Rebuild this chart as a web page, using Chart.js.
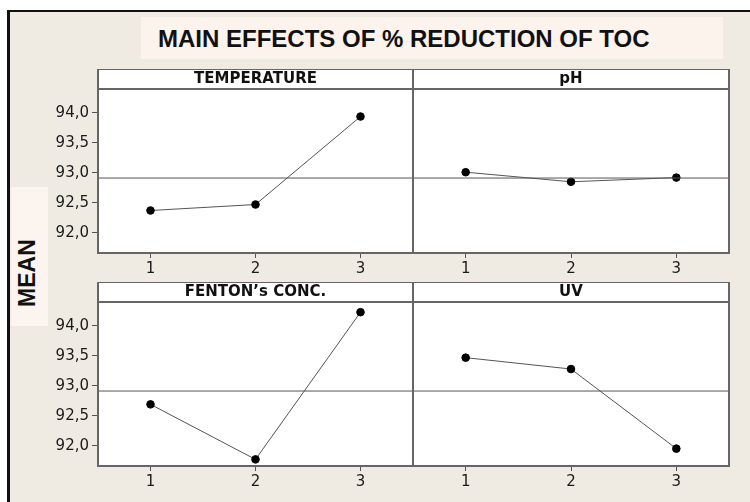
<!DOCTYPE html>
<html>
<head>
<meta charset="utf-8">
<script src="https://cdn.jsdelivr.net/npm/chart.js@4.4.0/dist/chart.umd.min.js"></script>
<style>
  body { margin: 0; width: 750px; height: 502px; overflow: hidden; position: relative; background: #fff; }
  #frame { position: absolute; left: 7px; top: 10px; width: 800px; height: 600px; background: #efebe2;
           border-left: 3px solid #111; border-top: 2px solid #111; }
  #title { position: absolute; left: 141px; top: 17px; width: 565px; height: 42px; padding-left: 17px;
           background: #fcf3ed; font: bold 24px "Liberation Sans", Arial, sans-serif; line-height: 43px; color: #111; }
  #meanBox { position: absolute; left: 11px; top: 187px; width: 37px; height: 139px; background: #fcf4ef; }
  #meanLabel { position: absolute; left: -21px; top: 258px; width: 100px; height: 30px; line-height: 30px;
               text-align: center; transform: rotate(-90deg); font: bold 23px "Liberation Sans", Arial, sans-serif; color: #111; }
  canvas { position: absolute; }
</style>
</head>
<body>
<div id="frame"></div>
<div id="title">MAIN EFFECTS OF % REDUCTION OF TOC</div>
<div id="meanBox"></div>
<div id="meanLabel">MEAN</div>
<canvas id="c1" width="364" height="221" style="left:50px;top:69px"></canvas>
<canvas id="c2" width="320" height="221" style="left:412px;top:69px"></canvas>
<canvas id="c3" width="364" height="221" style="left:50px;top:282px"></canvas>
<canvas id="c4" width="320" height="221" style="left:412px;top:282px"></canvas>
<script>
// factor levels and y tick values
const levels = [1, 2, 3];
const yTicks = [92.0, 92.5, 93.0, 93.5, 94.0];
const factors = ['TEMPERATURE', 'pH', 'FENTON\u2019s CONC.', 'UV'];

// means of % TOC reduction at each level
const temperature = [92.37, 92.47, 93.94];
const pH = [93.01, 92.85, 92.92];
const fenton = [92.69, 91.77, 94.23];
const uv = [93.47, 93.28, 91.95];

const allValues = [...temperature, ...pH, ...fenton, ...uv];
const grandMean = allValues.reduce((s, v) => s + v, 0) / allValues.length;

const tickFont = { family: 'DejaVu Sans', size: 15 };

// white panel with header strip, drawn around the chart area
const panelFrame = {
  id: 'panelFrame',
  beforeDraw(chart, args, opts) {
    const { ctx, chartArea: a } = chart;
    ctx.save();
    ctx.fillStyle = '#fff';
    ctx.fillRect(a.left, a.top - 20, a.right - a.left, a.bottom - a.top + 20);
    ctx.restore();
  },
  afterDraw(chart, args, opts) {
    const { ctx, chartArea: a } = chart;
    ctx.save();
    ctx.strokeStyle = '#666';
    ctx.lineWidth = 2;
    ctx.strokeRect(a.left, a.top - 20, a.right - a.left, a.bottom - a.top + 20);
    ctx.beginPath();
    ctx.moveTo(a.left, a.top);
    ctx.lineTo(a.right, a.top);
    ctx.stroke();
    ctx.fillStyle = '#111';
    ctx.font = 'bold 15px "DejaVu Sans"';
    ctx.textAlign = 'center';
    ctx.textBaseline = 'middle';
    ctx.fillText(opts.title, (a.left + a.right) / 2, a.top - 10);
    ctx.restore();
  }
};

function makePanel(id, title, values, showY) {
  new Chart(document.getElementById(id), {
    type: 'line',
    data: {
      datasets: [
        {
          data: [{ x: 0.5, y: grandMean }, { x: 3.5, y: grandMean }],
          borderColor: '#555',
          borderWidth: 1,
          pointRadius: 0
        },
        {
          data: levels.map((l, i) => ({ x: l, y: values[i] })),
          borderColor: '#555',
          borderWidth: 1,
          pointRadius: 3.8,
          pointBackgroundColor: '#000',
          pointBorderColor: '#000',
          pointBorderWidth: 1
        }
      ]
    },
    options: {
      responsive: false,
      animation: false,
      devicePixelRatio: 1,
      layout: { autoPadding: false, padding: { top: 20, right: showY ? 1 : 3, left: showY ? 0 : 1, bottom: 0 } },
      plugins: { legend: { display: false }, tooltip: { enabled: false }, panelFrame: { title: title } },
      scales: {
        x: {
          type: 'linear',
          min: 0.5,
          max: 3.5,
          afterBuildTicks: s => { s.ticks = levels.map(v => ({ value: v })); },
          afterFit: s => { s.height = 37; s.paddingLeft = 0; s.paddingRight = 0; },
          grid: { drawOnChartArea: false, tickLength: 5, color: '#555' },
          border: { display: false },
          ticks: { font: tickFont, color: '#1a1a1a', padding: 2, maxRotation: 0, callback: v => String(v) }
        },
        y: {
          display: showY,
          min: 91.66,
          max: 94.4,
          afterBuildTicks: s => { s.ticks = yTicks.map(v => ({ value: v })); },
          afterFit: s => { s.width = showY ? 48 : 0; s.paddingTop = 0; s.paddingBottom = 0; },
          grid: { drawOnChartArea: false, tickLength: 6, color: '#555' },
          border: { display: false },
          ticks: { font: tickFont, color: '#1a1a1a', padding: 3, callback: v => v.toFixed(1).replace('.', ',') }
        }
      }
    },
    plugins: [panelFrame]
  });
}

makePanel('c1', factors[0], temperature, true);
makePanel('c2', factors[1], pH, false);
makePanel('c3', factors[2], fenton, true);
makePanel('c4', factors[3], uv, false);
</script>
</body>
</html>
